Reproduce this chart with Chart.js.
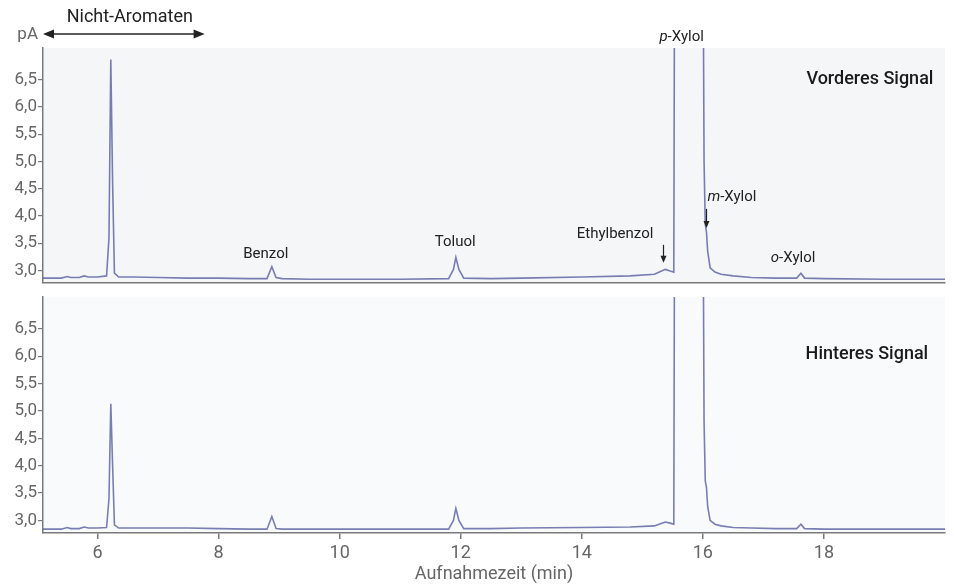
<!DOCTYPE html>
<html>
<head>
<meta charset="utf-8">
<script src="https://cdn.jsdelivr.net/npm/chart.js@4"></script>
<style>
  body { margin: 0; background: #fff; font-family: Roboto, sans-serif; }
  #wrap { position: relative; width: 954px; height: 585px; }
  .panel { position: absolute; left: 0; width: 954px; }
  #front { top: 0; height: 284px; }
  #back { top: 284px; height: 301px; }
</style>
</head>
<body>
<div id="wrap">
  <div class="panel" id="front"><canvas id="frontChart"></canvas></div>
  <div class="panel" id="back"><canvas id="backChart"></canvas></div>
</div>
<script>
// Retention times (min), shared by both detector signals
const rtTimes = [5.1, 5.4, 5.5, 5.56, 5.7, 5.78, 5.85, 6.0, 6.15, 6.19, 6.22, 6.25, 6.28, 6.35, 6.6, 7.0, 7.5, 8.0, 8.5, 8.8,
  8.88, 8.95, 9.05, 9.5, 10.0, 11.0, 11.8, 11.88, 11.92, 11.97, 12.05, 12.5, 13.0, 14.0, 14.8, 15.2, 15.3, 15.38, 15.46, 15.52,
  15.54, 15.99, 16.02, 16.04, 16.06, 16.08, 16.12, 16.2, 16.3, 16.5, 16.8, 17.2, 17.55, 17.62, 17.68, 18.0, 19.0, 20.0];

// Vorderes Signal (pA)
const frontSignal = [2.86, 2.86, 2.89, 2.87, 2.87, 2.9, 2.88, 2.88, 2.9, 3.6, 6.87, 4.6, 2.95, 2.88, 2.88, 2.87, 2.86, 2.86, 2.85, 2.85,
  3.07, 2.87, 2.85, 2.84, 2.84, 2.84, 2.85, 3.02, 3.24, 3.02, 2.86, 2.85, 2.86, 2.88, 2.9, 2.93, 2.98, 3.02, 2.99, 2.97,
  12, 12, 5.0, 3.85, 3.7, 3.35, 3.05, 2.97, 2.93, 2.9, 2.87, 2.86, 2.86, 2.95, 2.86, 2.85, 2.84, 2.84];

// Hinteres Signal (pA)
const backSignal = [2.84, 2.84, 2.87, 2.85, 2.85, 2.88, 2.86, 2.86, 2.87, 3.4, 5.13, 4.0, 2.92, 2.86, 2.86, 2.86, 2.86, 2.85, 2.84, 2.84,
  3.07, 2.85, 2.84, 2.84, 2.84, 2.84, 2.84, 3.0, 3.22, 3.0, 2.85, 2.85, 2.86, 2.87, 2.88, 2.9, 2.94, 2.97, 2.95, 2.93,
  12, 12, 4.8, 3.72, 3.6, 3.25, 3.0, 2.93, 2.9, 2.87, 2.86, 2.85, 2.85, 2.93, 2.85, 2.84, 2.84, 2.84];

const yTicks = [3.0, 3.5, 4.0, 4.5, 5.0, 5.5, 6.0, 6.5];
const xTicks = [6, 8, 10, 12, 14, 16, 18];

// peak labels for the front panel: [prefix in italics, rest, time, pA]
const peakLabels = [
  ['', 'Benzol', 8.78, 3.30],
  ['', 'Toluol', 11.91, 3.52],
  ['', 'Ethylbenzol', 14.55, 3.67],
  ['p', '-Xylol', 15.65, 7.27],
  ['m', '-Xylol', 16.48, 4.35],
  ['o', '-Xylol', 17.49, 3.23]
];
// small down arrows: [time, from pA, to pA]
const peakArrows = [[15.34, 3.47, 3.14], [16.05, 4.13, 3.78]];

const lineColor = 'rgba(98, 102, 165, 0.85)';
const axisColor = '#7a7a7a';
const tickColor = '#666';
const font = 'Roboto, sans-serif';

function toPoints(vals) {
  return rtTimes.map((t, i) => ({ x: t, y: vals[i] }));
}

function fmt(v) { return v.toFixed(1).replace('.', ','); }

const bgPlugin = (color) => ({
  id: 'plotBg',
  beforeDraw(chart) {
    const a = chart.chartArea, c = chart.ctx;
    c.save();
    c.fillStyle = color;
    c.fillRect(a.left, a.top, a.right - a.left, a.bottom - a.top);
    c.restore();
  }
});

function arrowHead(c, x, y, dir, len, half) {
  // dir: 'down', 'left', 'right'
  c.beginPath();
  if (dir === 'down') { c.moveTo(x, y); c.lineTo(x - half, y - len); c.lineTo(x + half, y - len); }
  if (dir === 'left') { c.moveTo(x, y); c.lineTo(x + len, y - half); c.lineTo(x + len, y + half); }
  if (dir === 'right') { c.moveTo(x, y); c.lineTo(x - len, y - half); c.lineTo(x - len, y + half); }
  c.closePath();
  c.fill();
}

function panelTitle(text, t, v) {
  return {
    id: 'panelTitle',
    afterDraw(chart) {
      const c = chart.ctx, xs = chart.scales.x, ys = chart.scales.y;
      c.save();
      c.font = '500 18px ' + font;
      c.fillStyle = '#1a1a1a';
      c.textAlign = 'center';
      c.textBaseline = 'middle';
      c.fillText(text, xs.getPixelForValue(t), ys.getPixelForValue(v));
      c.restore();
    }
  };
}

const frontLabels = {
  id: 'frontLabels',
  afterDraw(chart) {
    const c = chart.ctx, xs = chart.scales.x, ys = chart.scales.y;
    c.save();
    c.fillStyle = '#222';
    c.strokeStyle = '#222';
    c.textBaseline = 'middle';
    peakLabels.forEach(([it, rest, t, v]) => {
      const x = xs.getPixelForValue(t), y = ys.getPixelForValue(v);
      c.font = 'italic 15px ' + font;
      const w1 = it ? c.measureText(it).width : 0;
      c.font = '15px ' + font;
      const w2 = c.measureText(rest).width;
      let x0 = x - (w1 + w2) / 2;
      c.textAlign = 'left';
      if (it) { c.font = 'italic 15px ' + font; c.fillText(it, x0, y); c.font = '15px ' + font; }
      c.fillText(rest, x0 + w1, y);
    });
    c.lineWidth = 1.2;
    peakArrows.forEach(([t, v1, v2]) => {
      const x = Math.round(xs.getPixelForValue(t)) + 0.5;
      const y1 = ys.getPixelForValue(v1), y2 = ys.getPixelForValue(v2);
      c.beginPath(); c.moveTo(x, y1); c.lineTo(x, y2 - 5); c.stroke();
      arrowHead(c, x, y2, 'down', 7, 3);
    });
    // pA unit and Nicht-Aromaten range
    c.font = '17px ' + font;
    c.fillStyle = tickColor;
    c.textAlign = 'right';
    c.fillText('pA', 38, 35);
    c.fillStyle = '#222';
    c.strokeStyle = '#222';
    const xa = xs.getPixelForValue(5.1), xb = xs.getPixelForValue(7.77), ya = 34;
    c.lineWidth = 1.5;
    c.beginPath(); c.moveTo(xa + 6, ya); c.lineTo(xb - 6, ya); c.stroke();
    arrowHead(c, xa, ya, 'left', 11, 4.5);
    arrowHead(c, xb, ya, 'right', 11, 4.5);
    c.font = '18px ' + font;
    c.textAlign = 'center';
    c.fillText('Nicht-Aromaten', (xa + xb) / 2 + 6, 17);
    c.restore();
  }
};

function makeOptions(isBottom, padTop) {
  return {
    responsive: true,
    maintainAspectRatio: false,
    animation: false,
    layout: { padding: { top: padTop, right: 9, bottom: 0, left: 0 } },
    plugins: { legend: { display: false }, tooltip: { enabled: false } },
    elements: { point: { radius: 0 } },
    scales: {
      x: {
        type: 'linear',
        min: 5.1,
        max: 20,
        afterBuildTicks: (s) => { s.ticks = xTicks.map(v => ({ value: v })); },
        afterFit: (s) => { s.height = isBottom ? 52 : 1; s.paddingLeft = 0; s.paddingRight = 0; },
        grid: { drawOnChartArea: false, drawTicks: isBottom, tickLength: 6, color: axisColor, lineWidth: 1.5 },
        border: { display: true, color: axisColor, width: 1.5 },
        ticks: { display: isBottom, color: tickColor, font: { family: font, size: 18 }, padding: 4, maxRotation: 0 },
        title: {
          display: isBottom,
          text: 'Aufnahmezeit (min)',
          color: tickColor,
          font: { family: font, size: 18 },
          padding: { top: 0, bottom: 0 }
        }
      },
      y: {
        type: 'linear',
        min: 2.77,
        max: 7.08,
        afterBuildTicks: (s) => { s.ticks = yTicks.map(v => ({ value: v })); },
        afterFit: (s) => { s.width = 43; s.paddingTop = 0; s.paddingBottom = 0; },
        grid: { drawOnChartArea: false, drawTicks: true, tickLength: 5, color: axisColor, lineWidth: 1.2 },
        border: { display: true, color: axisColor, width: 1.5 },
        ticks: { color: tickColor, font: { family: font, size: 17 }, padding: 1, callback: (v) => fmt(v) }
      }
    }
  };
}

function dataset(vals) {
  return {
    data: toPoints(vals),
    borderColor: lineColor,
    borderWidth: 1.6,
    tension: 0,
    fill: false
  };
}

new Chart(document.getElementById('frontChart'), {
  type: 'line',
  data: { datasets: [dataset(frontSignal)] },
  options: makeOptions(false, 48),
  plugins: [bgPlugin('#f5f6f8'), frontLabels, panelTitle('Vorderes Signal', 18.76, 6.5)]
});

new Chart(document.getElementById('backChart'), {
  type: 'line',
  data: { datasets: [dataset(backSignal)] },
  options: makeOptions(true, 13),
  plugins: [bgPlugin('#f9fafc'), panelTitle('Hinteres Signal', 18.71, 6.03)]
});
</script>
</body>
</html>
